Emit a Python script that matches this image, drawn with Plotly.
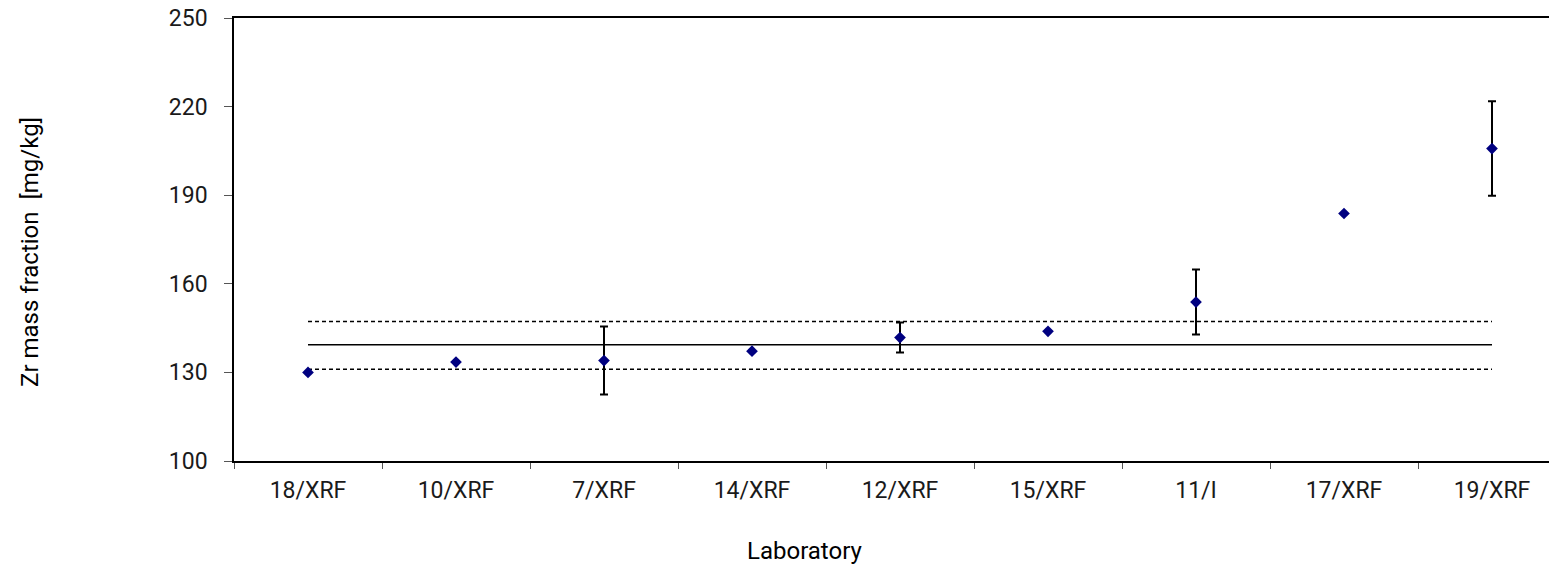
import plotly.graph_objects as go

labs = ["18/XRF", "10/XRF", "7/XRF", "14/XRF", "12/XRF", "15/XRF", "11/I", "17/XRF", "19/XRF"]
values = [130.0, 133.5, 134.0, 137.2, 141.8, 143.9, 153.8, 183.8, 205.8]
uncert = [0, 0, 11.5, 0, 5.1, 0, 11.0, 0, 16.0]
ref_value = 139.4
ref_upper = 147.2
ref_lower = 131.1
y_ticks = [100, 130, 160, 190, 220, 250]

FONT = "Roboto"
TXT = "#1a1a1a"
L, R, T, B = 234, 0, 18, 107
W, H = 1549, 568
CAT_W = 148.0  # pixel width of one category in the reference (chart cropped on the right)
plot_w = W - L - R
x_hi = -0.5 + plot_w / CAT_W

fig = go.Figure()

fig.add_trace(go.Scatter(x=labs, y=[ref_upper] * len(labs), mode="lines",
                         line=dict(color="black", width=1.5, dash="4px,3px"), hoverinfo="skip"))
fig.add_trace(go.Scatter(x=labs, y=[ref_value] * len(labs), mode="lines",
                         line=dict(color="black", width=1.5), hoverinfo="skip"))
fig.add_trace(go.Scatter(x=labs, y=[ref_lower] * len(labs), mode="lines",
                         line=dict(color="black", width=1.5, dash="4px,3px"), hoverinfo="skip"))

fig.add_trace(go.Scatter(
    x=labs, y=values, mode="markers",
    marker=dict(symbol="diamond", size=9, color="#000080"),
    error_y=dict(type="data", array=uncert, visible=True, color="black", thickness=2, width=4),
))

fig.update_layout(
    width=W, height=H,
    margin=dict(l=L, r=R, t=T, b=B, autoexpand=False),
    plot_bgcolor="white", paper_bgcolor="white",
    showlegend=False,
    font=dict(family=FONT, size=24, color=TXT),
    xaxis=dict(
        type="category", showline=True, linecolor="black", linewidth=1.5, mirror=True,
        ticks="outside", tickson="boundaries", ticklen=6, tickcolor="#555",
        showgrid=False, tickfont=dict(size=23, family=FONT, color=TXT),
        ticklabelstandoff=8,
        range=[-0.5, x_hi],
    ),
    yaxis=dict(
        range=[100, 250], tickvals=y_ticks, showline=True, linecolor="black", linewidth=1.5,
        mirror=False, ticks="outside", ticklen=8, tickcolor="#555", showgrid=False,
        zeroline=False, tickfont=dict(size=23, family=FONT, color=TXT),
        ticklabelstandoff=12,
    ),
    annotations=[
        dict(text="Laboratory", xref="paper", yref="paper", x=(805 - L) / plot_w, y=-(551 - 461) / 443,
             xanchor="center", yanchor="middle", showarrow=False,
             font=dict(size=24, family=FONT, color="black")),
        dict(text="Zr mass fraction  [mg/kg]", xref="paper", yref="paper",
             x=(30 - L) / plot_w, y=(461 - 252) / 443, xanchor="center", yanchor="middle",
             textangle=-90, showarrow=False, font=dict(size=24, family=FONT, color="black")),
    ],
)

fig.write_html("out.html", config={"displayModeBar": False},
               post_script="document.body.style.margin='0';document.body.style.overflow='hidden';")
